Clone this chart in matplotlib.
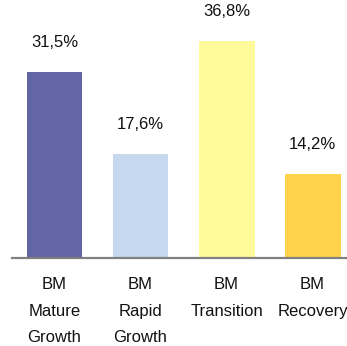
import matplotlib

matplotlib.use("Agg")
import matplotlib.pyplot as plt

# Share of each BM segment, in percent.
categories = ["BM\nMature\nGrowth", "BM\nRapid\nGrowth", "BM\nTransition", "BM\nRecovery"]
values = [31.5, 17.6, 36.8, 14.2]
colors = ["#6266A5", "#C6D8EE", "#FFFA9C", "#FFD44C"]

plt.rcParams["font.family"] = ["Liberation Sans", "DejaVu Sans"]

fig = plt.figure(figsize=(3.47, 3.46), dpi=100)
ax = fig.add_axes([11.5 / 347, 1 - 258 / 346, 1 - 11.5 / 347, 258 / 346])

x = range(len(values))
ax.bar(x, values, width=0.65, color=colors)

for xi, v in zip(x, values):
    ax.annotate(f"{v:.1f}%".replace(".", ","), (xi, v), xytext=(0, 16),
                textcoords="offset points", ha="center", va="bottom",
                fontsize=12, color="#111111")

ax.set_xlim(-0.5, 3.4)
ax.set_ylim(0, 43.8)
ax.set_xticks(list(x))
ax.set_xticklabels(categories, fontsize=12, color="#111111", linespacing=1.95,
                   va="top")
ax.tick_params(axis="x", length=0, pad=14)
ax.set_yticks([])

for side in ("top", "right", "left"):
    ax.spines[side].set_visible(False)
ax.spines["bottom"].set_color("#808080")
ax.spines["bottom"].set_linewidth(1.6)

fig.savefig("out.png", dpi=100)
